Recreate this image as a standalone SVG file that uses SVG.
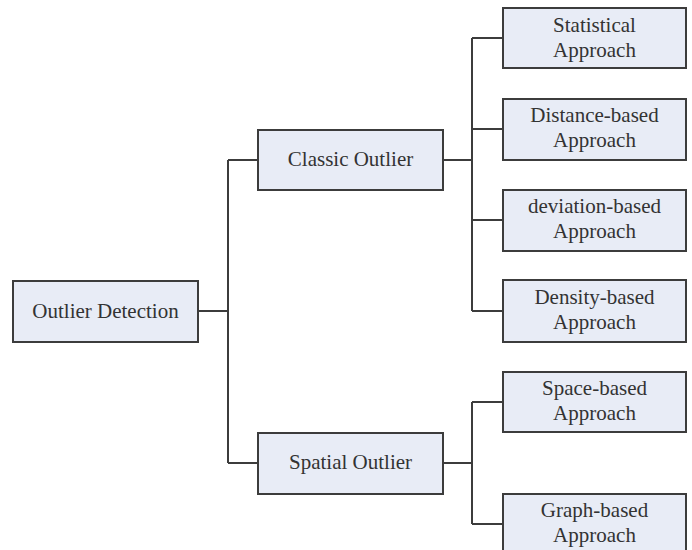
<svg xmlns="http://www.w3.org/2000/svg" width="692" height="550" viewBox="0 0 692 550">
<style>
.box{fill:#e8ecf6;stroke:#3c3c3c;stroke-width:2}
.t{font-family:"Liberation Serif","Times New Roman",serif;font-size:21px;fill:#333;text-anchor:middle}
.c{fill:none;stroke:#3c3c3c;stroke-width:2}
</style>
<rect width="692" height="550" fill="#fff"/>
<g id="connectors">
<path class="c" d="M198 311H228M228 160V463M228 160H258M228 463H258"/>
<path class="c" d="M443 160H472M472 38V311M472 38H503M472 129H503M472 220H503M472 311H503"/>
<path class="c" d="M443 463H472M472 402V524M472 402H503M472 524H503"/>
</g>
<g id="outlier-detection"><rect class="box" x="13" y="281" width="185" height="61"/><text class="t" x="105.5" y="318">Outlier Detection</text></g>
<g id="classic-outlier"><rect class="box" x="258" y="130" width="185" height="60"/><text class="t" x="350.5" y="166">Classic Outlier</text></g>
<g id="spatial-outlier"><rect class="box" x="258" y="433" width="185" height="61"/><text class="t" x="350.5" y="469">Spatial Outlier</text></g>
<g id="statistical"><rect class="box" x="503" y="8" width="183" height="60"/><text class="t" x="594.5" y="32">Statistical</text><text class="t" x="594.5" y="57">Approach</text></g>
<g id="distance"><rect class="box" x="503" y="99" width="183" height="61"/><text class="t" x="594.5" y="122">Distance-based</text><text class="t" x="594.5" y="147">Approach</text></g>
<g id="deviation"><rect class="box" x="503" y="190" width="183" height="61"/><text class="t" x="594.5" y="213">deviation-based</text><text class="t" x="594.5" y="238">Approach</text></g>
<g id="density"><rect class="box" x="503" y="280" width="183" height="62"/><text class="t" x="594.5" y="304">Density-based</text><text class="t" x="594.5" y="329">Approach</text></g>
<g id="space"><rect class="box" x="503" y="372" width="183" height="60"/><text class="t" x="594.5" y="395">Space-based</text><text class="t" x="594.5" y="420">Approach</text></g>
<g id="graph"><rect class="box" x="503" y="494" width="183" height="70"/><text class="t" x="594.5" y="517">Graph-based</text><text class="t" x="594.5" y="542">Approach</text></g>
</svg>
